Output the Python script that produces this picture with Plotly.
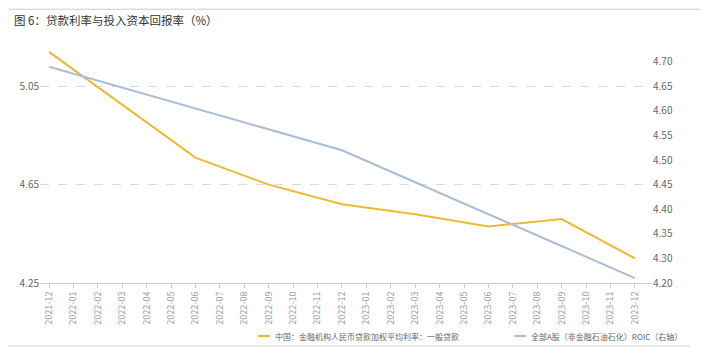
import plotly.graph_objects as go

months = ["2021-12"] + [f"2022-{m:02d}" for m in range(1, 13)] + [f"2023-{m:02d}" for m in range(1, 13)]

# 中国：金融机构人民币贷款加权平均利率：一般贷款 (quarterly, left axis)
loan_rate = [5.19, None, None, None, None, None, 4.76, None, None, 4.65, None, None, 4.57,
             None, None, 4.53, None, None, 4.48, None, None, 4.51, None, None, 4.35]
# 全部A股（非金融石油石化）ROIC (annual, right axis)
roic = [4.69] + [None] * 11 + [4.52] + [None] * 11 + [4.26]

series_names = ["中国：金融机构人民币贷款加权平均利率：一般贷款", "全部A股（非金融石油石化）ROIC（右轴）"]
left_ticks = [4.25, 4.65, 5.05]
right_ticks = [4.25, 4.30, 4.35, 4.40, 4.45, 4.50, 4.55, 4.60, 4.65, 4.70]
right_ticktext = ["4.20", "4.30", "4.35", "4.40", "4.45", "4.50", "4.55", "4.60", "4.65", "4.70"]
title = "图 6：贷款利率与投入资本回报率（%）"

YELLOW = "#EBB935"
BLUE = "#A9BDD6"
FONT = "Noto Sans CJK SC"

fig = go.Figure()
fig.add_trace(go.Scatter(x=months, y=loan_rate, mode="lines", name=series_names[0],
                         line=dict(color=YELLOW, width=2), connectgaps=True, yaxis="y"))
fig.add_trace(go.Scatter(x=months, y=roic, mode="lines", name=series_names[1],
                         line=dict(color=BLUE, width=2), connectgaps=True, yaxis="y2"))

fig.update_layout(
    width=705, height=361,
    margin=dict(l=40, r=53, t=47, b=78, autoexpand=False),
    paper_bgcolor="white", plot_bgcolor="white",
    showlegend=False,
    font=dict(family=FONT, color="#777"),
    xaxis=dict(type="category", range=[-0.37, 24.7], tickangle=-90, automargin=False,
               tickfont=dict(size=9, color="#999"), showline=True, linecolor="#ccc",
               ticks="outside", ticklen=4, tickcolor="#ccc", showgrid=False),
    yaxis=dict(range=[4.25, 5.21], tickvals=left_ticks, tickformat=".2f", automargin=False,
               tickfont=dict(size=10, color="#666"), showgrid=True, gridcolor="#d9d9d9",
               griddash="dash", zeroline=False, showline=False),
    yaxis2=dict(range=[4.25, 4.73], overlaying="y", side="right", tickvals=right_ticks,
                ticktext=right_ticktext, tickfont=dict(size=10, color="#666"), automargin=False,
                showgrid=False, zeroline=False, showline=False),
)

# Title and decorative rules
fig.add_annotation(text=title, xref="paper", yref="paper", x=-0.046, y=1.114,
                   xanchor="left", yanchor="middle", showarrow=False,
                   font=dict(size=11.5, color="#333", family=FONT))
fig.add_shape(type="line", xref="paper", yref="paper", x0=-0.052, x1=1.078, y0=1.16, y1=1.16,
              line=dict(color="#cccccc", width=1.2))
fig.add_shape(type="line", xref="paper", yref="paper", x0=-0.052, x1=1.062, y0=-0.267, y1=-0.267,
              line=dict(color="#d5d5d5", width=1))

# Custom legend
leg_y = -0.2246
for (x0, x1, tx), color, name in zip([(0.356, 0.376, 0.381), (0.775, 0.794, 0.799)],
                                     [YELLOW, BLUE], series_names):
    fig.add_shape(type="line", xref="paper", yref="paper", x0=x0, x1=x1, y0=leg_y, y1=leg_y,
                  line=dict(color=color, width=2))
    fig.add_annotation(text=name, xref="paper", yref="paper", x=tx, y=leg_y,
                       xanchor="left", yanchor="middle", showarrow=False,
                       font=dict(size=8, color="#666", family=FONT))

fig.write_html("out.html", config={"displayModeBar": False},
               post_script="document.body.style.margin='0';document.body.style.overflow='hidden';")
